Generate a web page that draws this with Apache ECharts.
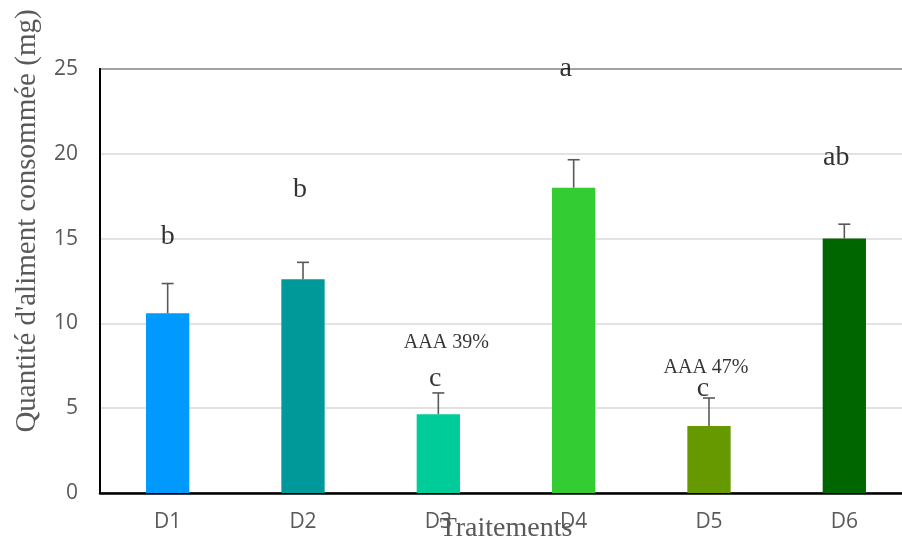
<!DOCTYPE html>
<html>
<head>
<meta charset="utf-8">
<script src="https://cdn.jsdelivr.net/npm/echarts@6/dist/echarts.min.js"></script>
<style>
  html, body { margin: 0; padding: 0; background: #fff; }
  #chart { width: 902px; height: 540px; }
</style>
</head>
<body>
<div id="chart"></div>
<script>
// Treatments and mean food consumed (mg) with standard error
const categories = ['D1', 'D2', 'D3', 'D4', 'D5', 'D6'];
const consumption = [10.6, 12.6, 4.65, 18.0, 3.95, 15.0];
const errors = [1.75, 1.0, 1.25, 1.65, 1.65, 0.85];
const barColors = ['#0099FF', '#009999', '#00CC99', '#33CC33', '#669900', '#006600'];
const yTicks = [0, 5, 10, 15, 20, 25];

// Significance letters and their heights (axis units)
const letters = ['b', 'b', 'c', 'a', 'c', 'ab'];
const letterY = [15.1, 17.9, 6.75, 25.0, 6.15, 19.8];
// Anti-feeding activity notes
const noteCats = ['D3', 'D5'];
const noteText = ['AAA 39%', 'AAA 47%'];
const noteY = [8.85, 7.4];

// horizontal nudges (px) for text placement
const letterNudge = [0, -3, -3, -8, -6, -8];
const noteNudge = [8, -3];

const chart = echarts.init(document.getElementById('chart'));
const grey = '#595959';
const serif = '"Liberation Serif", "Times New Roman", serif';
const sans = '"Open Sans", "Noto Sans", sans-serif';

chart.setOption({
  animation: false,
  grid: {
    left: 100, top: 69, width: 812, height: 424,
    outerBoundsMode: 'none', containLabel: false,
    show: true, borderColor: '#000', borderWidth: 2, backgroundColor: 'transparent'
  },
  xAxis: {
    type: 'category',
    data: categories,
    axisTick: { show: false },
    axisLine: { lineStyle: { color: '#000', width: 2.5 } },
    axisLabel: { color: grey, fontFamily: sans, fontSize: 21, margin: 19 },
    name: 'Traitements',
    nameLocation: 'middle',
    nameGap: 22,
    nameMoveOverlap: false,
    nameTextStyle: { color: grey, fontFamily: serif, fontSize: 28 }
  },
  yAxis: {
    type: 'value',
    min: yTicks[0], max: yTicks[yTicks.length - 1], interval: yTicks[1] - yTicks[0],
    axisLine: { show: true, lineStyle: { color: '#000', width: 2 } },
    axisTick: { show: false },
    splitLine: { lineStyle: { color: '#d9d9d9', width: 1.5 } },
    axisLabel: { color: grey, fontFamily: sans, fontSize: 21, margin: 22 }
  },
  graphic: [{
    type: 'text',
    x: 27, y: 221,
    rotation: Math.PI / 2,
    style: {
      text: "Quantité d'aliment consommée (mg)",
      fill: grey, font: '29px ' + serif,
      align: 'center', verticalAlign: 'middle'
    }
  }],
  series: [
    {
      type: 'bar',
      barWidth: '32%',
      data: consumption.map((v, i) => ({ value: v, itemStyle: { color: barColors[i] } })),
      z: 2
    },
    {
      type: 'custom',
      z: 3,
      data: consumption.map((v, i) => [i, v, errors[i]]),
      renderItem: function (params, api) {
        const base = api.coord([api.value(0), api.value(1)]);
        const top = api.coord([api.value(0), api.value(1) + api.value(2)]);
        const half = 6;
        const style = { stroke: '#595959', lineWidth: 1.6 };
        return {
          type: 'group',
          children: [
            { type: 'line', shape: { x1: base[0], y1: base[1], x2: top[0], y2: top[1] }, style: style },
            { type: 'line', shape: { x1: top[0] - half, y1: top[1], x2: top[0] + half, y2: top[1] }, style: style }
          ]
        };
      }
    },
    {
      type: 'scatter',
      symbolSize: 0,
      z: 5,
      data: letters.map((t, i) => ({
        value: [categories[i], letterY[i]],
        label: { show: true, formatter: t, offset: [letterNudge[i], 0] }
      })),
      label: {
        position: 'inside', color: '#000', fontFamily: serif, fontSize: 28,
        align: 'center', verticalAlign: 'middle'
      }
    },
    {
      type: 'scatter',
      symbolSize: 0,
      z: 5,
      data: noteText.map((t, i) => ({
        value: [noteCats[i], noteY[i]],
        label: { show: true, formatter: t, offset: [noteNudge[i], 0] }
      })),
      label: {
        position: 'inside', color: '#000', fontFamily: serif, fontSize: 20,
        align: 'center', verticalAlign: 'middle'
      }
    }
  ]
});
</script>
</body>
</html>
